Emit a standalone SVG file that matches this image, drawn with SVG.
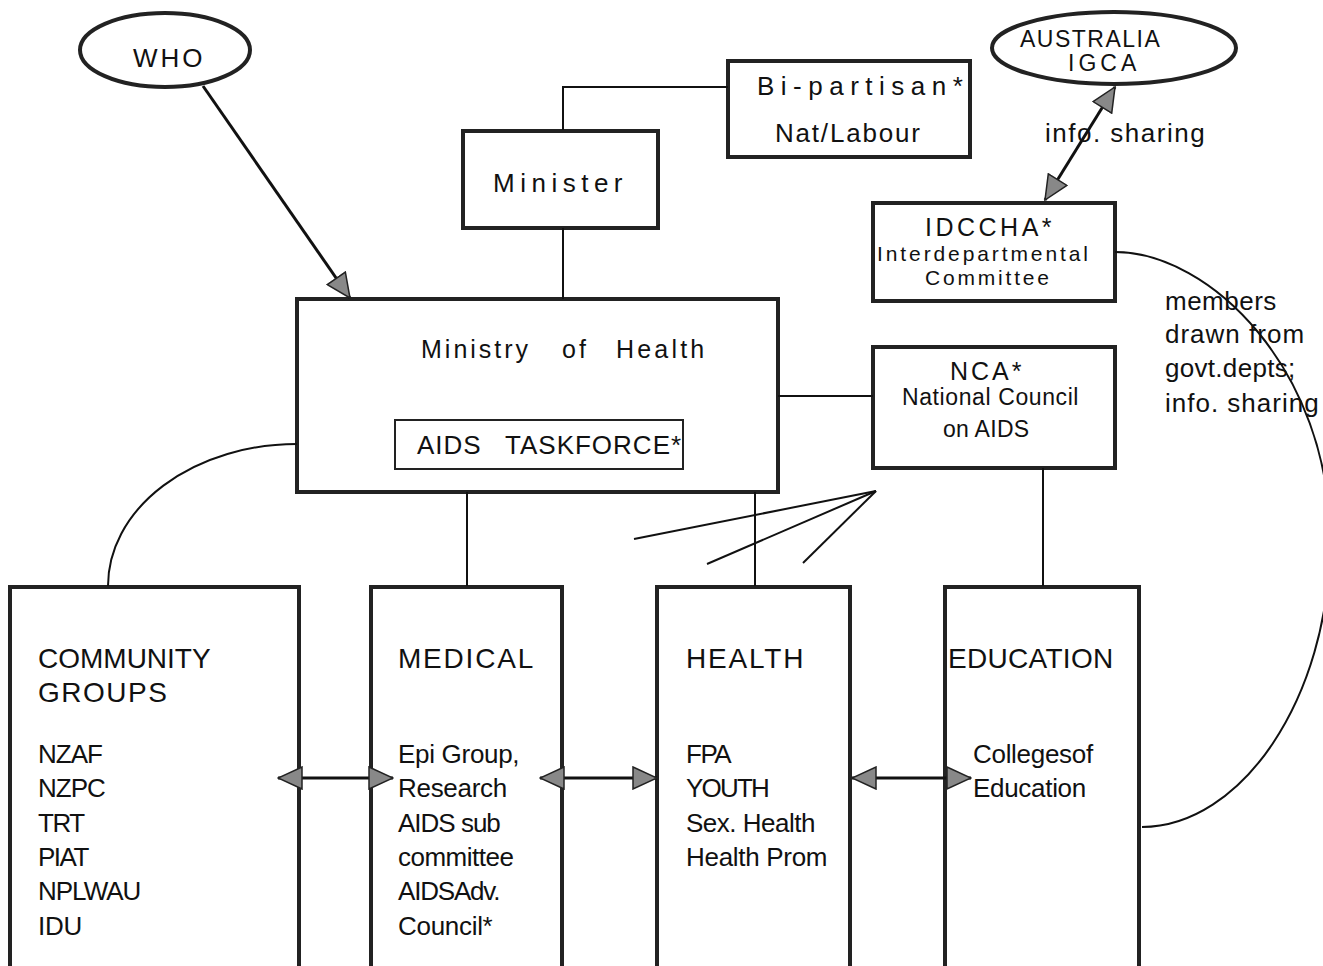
<svg xmlns="http://www.w3.org/2000/svg" width="1323" height="966" viewBox="0 0 1323 966">
<style>
.box{fill:#fff;stroke:#222;stroke-width:4}
.thin{fill:#fff;stroke:#222;stroke-width:2}
.ell{fill:#fff;stroke:#222;stroke-width:4}
.con{fill:none;stroke:#111;stroke-width:2}
.arr{fill:none;stroke:#111;stroke-width:3}
text{font-family:"Liberation Sans",Arial,sans-serif;fill:#111}
.h{font-size:26px}
.b{font-size:26px;letter-spacing:-0.3px}
</style>
<defs>
<marker id="ah" markerUnits="userSpaceOnUse" markerWidth="26" markerHeight="24" viewBox="0 0 26 24" refX="25" refY="12" orient="auto-start-reverse">
<path d="M1,1 L25,12 L1,23 z" fill="#888" stroke="#222" stroke-width="1.5"/>
</marker>
</defs>
<rect width="1323" height="966" fill="#fff"/>

<g id="who">
<ellipse class="ell" cx="165" cy="50" rx="85" ry="37"/>
<text class="h" x="133" y="67" style="letter-spacing:3px">WHO</text>
</g>

<g id="minister">
<rect class="box" x="463" y="131" width="195" height="97"/>
<text class="h" x="493" y="192" style="letter-spacing:5.5px">Minister</text>
</g>

<g id="bipartisan">
<rect class="box" x="728" y="61" width="242" height="96"/>
<text class="h" x="757" y="95" style="letter-spacing:6.5px">Bi-partisan*</text>
<text class="h" x="775" y="142" style="letter-spacing:1.8px">Nat/Labour</text>
</g>

<g id="australia">
<ellipse class="ell" cx="1114" cy="48" rx="122" ry="36"/>
<text x="1020" y="47" style="font-size:23px;letter-spacing:1.5px">AUSTRALIA</text>
<text x="1068" y="71" style="font-size:23px;letter-spacing:4px">IGCA</text>
</g>

<g id="info-sharing-label">
<text x="1045" y="142" style="font-size:26px;letter-spacing:1.5px">info. sharing</text>
</g>

<g id="idccha">
<rect class="box" x="873" y="203" width="242" height="98"/>
<text x="925" y="236" style="font-size:25px;letter-spacing:3.5px">IDCCHA*</text>
<text x="877" y="261" style="font-size:21px;letter-spacing:2.9px">Interdepartmental</text>
<text x="925" y="285" style="font-size:21px;letter-spacing:2.8px">Committee</text>
</g>

<g id="members-label">
<text class="b" x="1165" y="310" style="letter-spacing:0.5px">members</text>
<text class="b" x="1165" y="343" style="letter-spacing:1px">drawn from</text>
<text class="b" x="1165" y="377" style="letter-spacing:0.3px">govt.depts;</text>
<text class="b" x="1165" y="412" style="letter-spacing:1px">info. sharing</text>
</g>

<g id="ministry">
<rect class="box" x="297" y="299" width="481" height="193"/>
<text x="421" y="358" style="font-size:25px;letter-spacing:3px">Ministry</text>
<text x="562" y="358" style="font-size:25px;letter-spacing:3px">of</text>
<text x="616" y="358" style="font-size:25px;letter-spacing:3.2px">Health</text>
</g>

<g id="taskforce">
<rect class="thin" x="395" y="420" width="288" height="49"/>
<text x="417" y="454" style="font-size:26px;letter-spacing:1px">AIDS</text>
<text x="505" y="454" style="font-size:26px;letter-spacing:1px">TASKFORCE*</text>
</g>

<g id="nca">
<rect class="box" x="873" y="347" width="242" height="121"/>
<text x="950" y="380" style="font-size:25px;letter-spacing:3px">NCA*</text>
<text x="902" y="405" style="font-size:23px;letter-spacing:0.6px">National Council</text>
<text x="943" y="437" style="font-size:23px;letter-spacing:0.3px">on AIDS</text>
</g>

<g id="community">
<rect class="box" x="10" y="587" width="289" height="400"/>
<text x="38" y="668" style="font-size:28px">COMMUNITY</text>
<text x="38" y="702" style="font-size:28px;letter-spacing:1.5px">GROUPS</text>
<text class="b" x="38" y="763" style="letter-spacing:-1px">NZAF</text>
<text class="b" x="38" y="797" style="letter-spacing:-1px">NZPC</text>
<text class="b" x="38" y="832" style="letter-spacing:-1.5px">TRT</text>
<text class="b" x="38" y="866" style="letter-spacing:-1.5px">PIAT</text>
<text class="b" x="38" y="900" style="letter-spacing:-1px">NPLWAU</text>
<text class="b" x="38" y="935">IDU</text>
</g>

<g id="medical">
<rect class="box" x="371" y="587" width="191" height="400"/>
<text x="398" y="668" style="font-size:28px;letter-spacing:1.8px">MEDICAL</text>
<text class="b" x="398" y="763">Epi Group,</text>
<text class="b" x="398" y="797">Research</text>
<text class="b" x="398" y="832" style="letter-spacing:-1px">AIDS sub</text>
<text class="b" x="398" y="866" style="letter-spacing:-0.5px">committee</text>
<text class="b" x="398" y="900" style="letter-spacing:-1.2px">AIDSAdv.</text>
<text class="b" x="398" y="935">Council*</text>
</g>

<g id="health">
<rect class="box" x="657" y="587" width="193" height="400"/>
<text x="686" y="668" style="font-size:28px;letter-spacing:1.8px">HEALTH</text>
<text class="b" x="686" y="763" style="letter-spacing:-1.5px">FPA</text>
<text class="b" x="686" y="797" style="letter-spacing:-1.8px">YOUTH</text>
<text class="b" x="686" y="832" style="letter-spacing:-0.5px">Sex. Health</text>
<text class="b" x="686" y="866">Health Prom</text>
</g>

<g id="education">
<rect class="box" x="945" y="587" width="194" height="400"/>
<text x="948" y="668" style="font-size:28px;letter-spacing:0.3px">EDUCATION</text>
<text class="b" x="973" y="763">Collegesof</text>
<text class="b" x="973" y="797">Education</text>
</g>

<g id="connectors">
<polyline class="con" points="563,130 563,87 728,87"/>
<line class="con" x1="563" y1="228" x2="563" y2="299"/>
<line class="arr" x1="203" y1="86" x2="350" y2="298" marker-end="url(#ah)"/>
<line class="arr" x1="1045" y1="200" x2="1115" y2="87" marker-start="url(#ah)" marker-end="url(#ah)"/>
<path class="con" d="M297,444 A189,142 0 0 0 108,586"/>
<line class="con" x1="467" y1="492" x2="467" y2="586"/>
<line class="con" x1="755" y1="492" x2="755" y2="586"/>
<line class="con" x1="778" y1="396" x2="873" y2="396"/>
<line class="con" x1="1043" y1="468" x2="1043" y2="586"/>
<line class="con" x1="876" y1="491" x2="634" y2="539"/>
<line class="con" x1="876" y1="491" x2="707" y2="564"/>
<line class="con" x1="876" y1="491" x2="803" y2="563"/>
<path class="con" d="M1115,252 C1210,252 1330,370 1330,540 C1330,700 1240,827 1142,827"/>
<line class="arr" x1="278" y1="778" x2="393" y2="778" marker-start="url(#ah)" marker-end="url(#ah)"/>
<line class="arr" x1="540" y1="778" x2="657" y2="778" marker-start="url(#ah)" marker-end="url(#ah)"/>
<line class="arr" x1="852" y1="778" x2="971" y2="778" marker-start="url(#ah)" marker-end="url(#ah)"/>
</g>
</svg>
